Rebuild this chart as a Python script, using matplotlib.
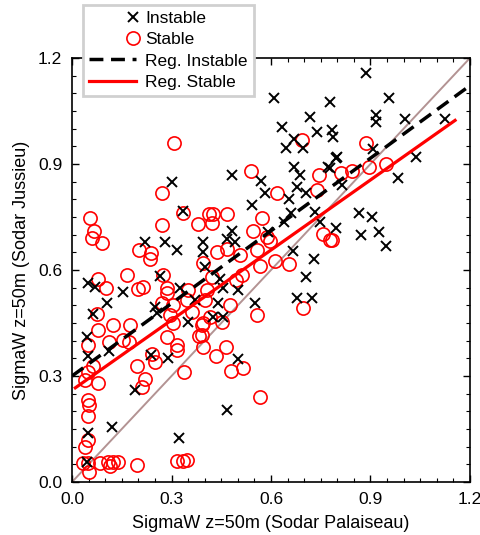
import numpy as np
import matplotlib.pyplot as plt
from matplotlib.legend_handler import HandlerLine2D

plt.rcParams['font.family'] = ['Liberation Sans', 'DejaVu Sans']

# Instable cases (Palaiseau, Jussieu)
inst_x = [0.887, 0.956, 0.917, 0.917, 1.005, 1.125, 0.778, 0.784, 0.787, 0.796,
          0.908, 1.038, 0.983, 0.814, 0.778, 0.609, 0.718, 0.633, 0.739, 0.670,
          0.646, 0.697, 0.483, 0.670, 0.570, 0.688, 0.772, 0.799, 0.582, 0.679,
          0.866, 0.905, 0.796, 0.872, 0.926, 0.947, 0.655, 0.706, 0.543, 0.661,
          0.640, 0.733, 0.748, 0.483, 0.591, 0.395, 0.395, 0.492, 0.468, 0.667,
          0.730, 0.401, 0.706, 0.446, 0.456, 0.501, 0.679, 0.724, 0.552, 0.440,
          0.425, 0.456, 0.335, 0.220, 0.281, 0.317, 0.048, 0.069, 0.154, 0.106,
          0.265, 0.250, 0.256, 0.063, 0.045, 0.326, 0.048, 0.112, 0.238, 0.290,
          0.190, 0.121, 0.048, 0.323, 0.045, 0.501, 0.468, 0.302, 0.371, 0.350]
inst_y = [1.158, 1.087, 1.039, 1.019, 1.027, 1.027, 1.076, 0.996, 0.977, 0.917,
          0.943, 0.920, 0.860, 0.841, 0.889, 1.087, 1.033, 1.005, 0.991, 0.971,
          0.945, 0.945, 0.869, 0.892, 0.852, 0.869, 0.892, 0.920, 0.818, 0.835,
          0.761, 0.750, 0.719, 0.699, 0.708, 0.668, 0.801, 0.818, 0.784, 0.761,
          0.736, 0.764, 0.736, 0.710, 0.708, 0.679, 0.651, 0.679, 0.688, 0.654,
          0.631, 0.609, 0.580, 0.575, 0.549, 0.543, 0.521, 0.521, 0.507, 0.507,
          0.467, 0.467, 0.767, 0.679, 0.679, 0.657, 0.563, 0.552, 0.538, 0.507,
          0.583, 0.495, 0.478, 0.476, 0.410, 0.549, 0.357, 0.371, 0.359, 0.351,
          0.260, 0.156, 0.139, 0.125, 0.057, 0.348, 0.204, 0.849, 0.515, 0.453]

# Stable cases (Palaiseau, Jussieu)
stab_x = [0.694, 0.540, 0.618, 0.745, 0.739, 0.812, 0.887, 0.845, 0.896, 0.947,
          0.308, 0.271, 0.778, 0.425, 0.468, 0.422, 0.573, 0.546, 0.588, 0.597,
          0.558, 0.437, 0.468, 0.507, 0.757, 0.784, 0.567, 0.612, 0.655, 0.395,
          0.422, 0.495, 0.513, 0.407, 0.401, 0.697, 0.558, 0.477, 0.416, 0.452,
          0.392, 0.054, 0.066, 0.060, 0.090, 0.271, 0.335, 0.380, 0.413, 0.202,
          0.238, 0.235, 0.166, 0.078, 0.103, 0.199, 0.214, 0.275, 0.287, 0.287,
          0.350, 0.271, 0.305, 0.347, 0.362, 0.296, 0.305, 0.075, 0.124, 0.175,
          0.078, 0.395, 0.392, 0.287, 0.048, 0.112, 0.154, 0.172, 0.317, 0.317,
          0.383, 0.395, 0.063, 0.048, 0.039, 0.078, 0.196, 0.241, 0.250, 0.220,
          0.211, 0.338, 0.048, 0.051, 0.048, 0.048, 0.039, 0.033, 0.048, 0.051,
          0.084, 0.109, 0.115, 0.124, 0.139, 0.196, 0.317, 0.335, 0.347, 0.465,
          0.434, 0.480, 0.516, 0.567]
stab_y = [0.968, 0.880, 0.818, 0.869, 0.826, 0.875, 0.960, 0.880, 0.892, 0.900,
          0.960, 0.818, 0.685, 0.759, 0.759, 0.733, 0.747, 0.710, 0.693, 0.682,
          0.657, 0.651, 0.660, 0.643, 0.702, 0.685, 0.611, 0.626, 0.617, 0.620,
          0.580, 0.572, 0.586, 0.543, 0.515, 0.492, 0.473, 0.501, 0.467, 0.453,
          0.444, 0.747, 0.710, 0.691, 0.676, 0.727, 0.761, 0.730, 0.759, 0.657,
          0.648, 0.631, 0.586, 0.575, 0.549, 0.546, 0.552, 0.586, 0.549, 0.535,
          0.543, 0.507, 0.501, 0.515, 0.481, 0.473, 0.450, 0.476, 0.444, 0.444,
          0.430, 0.450, 0.416, 0.410, 0.388, 0.396, 0.402, 0.396, 0.388, 0.374,
          0.413, 0.382, 0.328, 0.311, 0.289, 0.280, 0.328, 0.362, 0.340, 0.292,
          0.269, 0.311, 0.232, 0.218, 0.187, 0.119, 0.099, 0.054, 0.054, 0.028,
          0.054, 0.057, 0.045, 0.057, 0.057, 0.048, 0.059, 0.059, 0.062, 0.382,
          0.357, 0.314, 0.323, 0.241]

# Regression lines: intercept, slope and x range
reg_inst = (0.300, 0.685)
reg_inst_range = [0.0, 1.2]
reg_stab = (0.260, 0.661)
reg_stab_range = [0.01, 1.155]

ticks = [0.0, 0.3, 0.6, 0.9, 1.2]


class MarkerRight(HandlerLine2D):
    # single marker drawn at the right end of the handle, next to the text
    def get_xdata(self, legend, xdescent, ydescent, width, height, fontsize):
        m = -xdescent + width - 0.15 * fontsize
        return [m, m], [m]


fig = plt.figure(figsize=(4.81, 5.35), dpi=100)
ax = fig.add_axes([0.1497, 0.099, 0.8274, 0.7926])

ax.plot([0, 1.2], [0, 1.2], color='#b39393', lw=1.4, zorder=1)
h_stab, = ax.plot(stab_x, stab_y, 'o', ls='none', mfc='none', mec='red', ms=9.5, mew=1.2,
                  label='Stable', zorder=2)
h_inst, = ax.plot(inst_x, inst_y, 'x', ls='none', color='black', ms=7, mew=1.4,
                  label='Instable', zorder=3)

xi = np.array(reg_inst_range)
h_ri, = ax.plot(xi, reg_inst[0] + reg_inst[1] * xi, color='black', ls=(0, (4, 2.2)), lw=2.5,
                label='Reg. Instable', zorder=4)
xs = np.array(reg_stab_range)
h_rs, = ax.plot(xs, reg_stab[0] + reg_stab[1] * xs, color='red', lw=2.3,
                label='Reg. Stable', zorder=4)

ax.set_xlim(0, 1.2)
ax.set_ylim(0, 1.2)
ax.set_xticks(ticks)
ax.set_yticks(ticks)
ax.set_xticklabels(['%.1f' % t for t in ticks])
ax.set_yticklabels(['%.1f' % t for t in ticks])
ax.set_xticks(np.arange(0, 1.2001, 0.05), minor=True)
ax.set_yticks(np.arange(0, 1.2001, 0.05), minor=True)
ax.tick_params(which='both', direction='in', top=True, right=True, labelsize=12.5, pad=7)
ax.tick_params(which='major', length=5, width=1)
ax.tick_params(which='minor', length=3, width=0.8)
for s in ax.spines.values():
    s.set_linewidth(1.2)

ax.set_xlabel('SigmaW z=50m (Sodar Palaiseau)', fontsize=13, labelpad=6)
ax.set_ylabel('SigmaW z=50m (Sodar Jussieu)', fontsize=13, labelpad=6)

leg = fig.legend(handles=[h_inst, h_stab, h_ri, h_rs],
                 loc='upper left', bbox_to_anchor=(0.172, 0.991),
                 fontsize=12.5, numpoints=1, handlelength=2.7, handletextpad=0.55,
                 labelspacing=0.35, borderpad=0.35, borderaxespad=0,
                 fancybox=False, framealpha=1,
                 handler_map={h_inst: MarkerRight(), h_stab: MarkerRight()})
leg.get_frame().set_edgecolor('#d0d0d0')
leg.get_frame().set_linewidth(2)

fig.savefig('out.png', dpi=100)
